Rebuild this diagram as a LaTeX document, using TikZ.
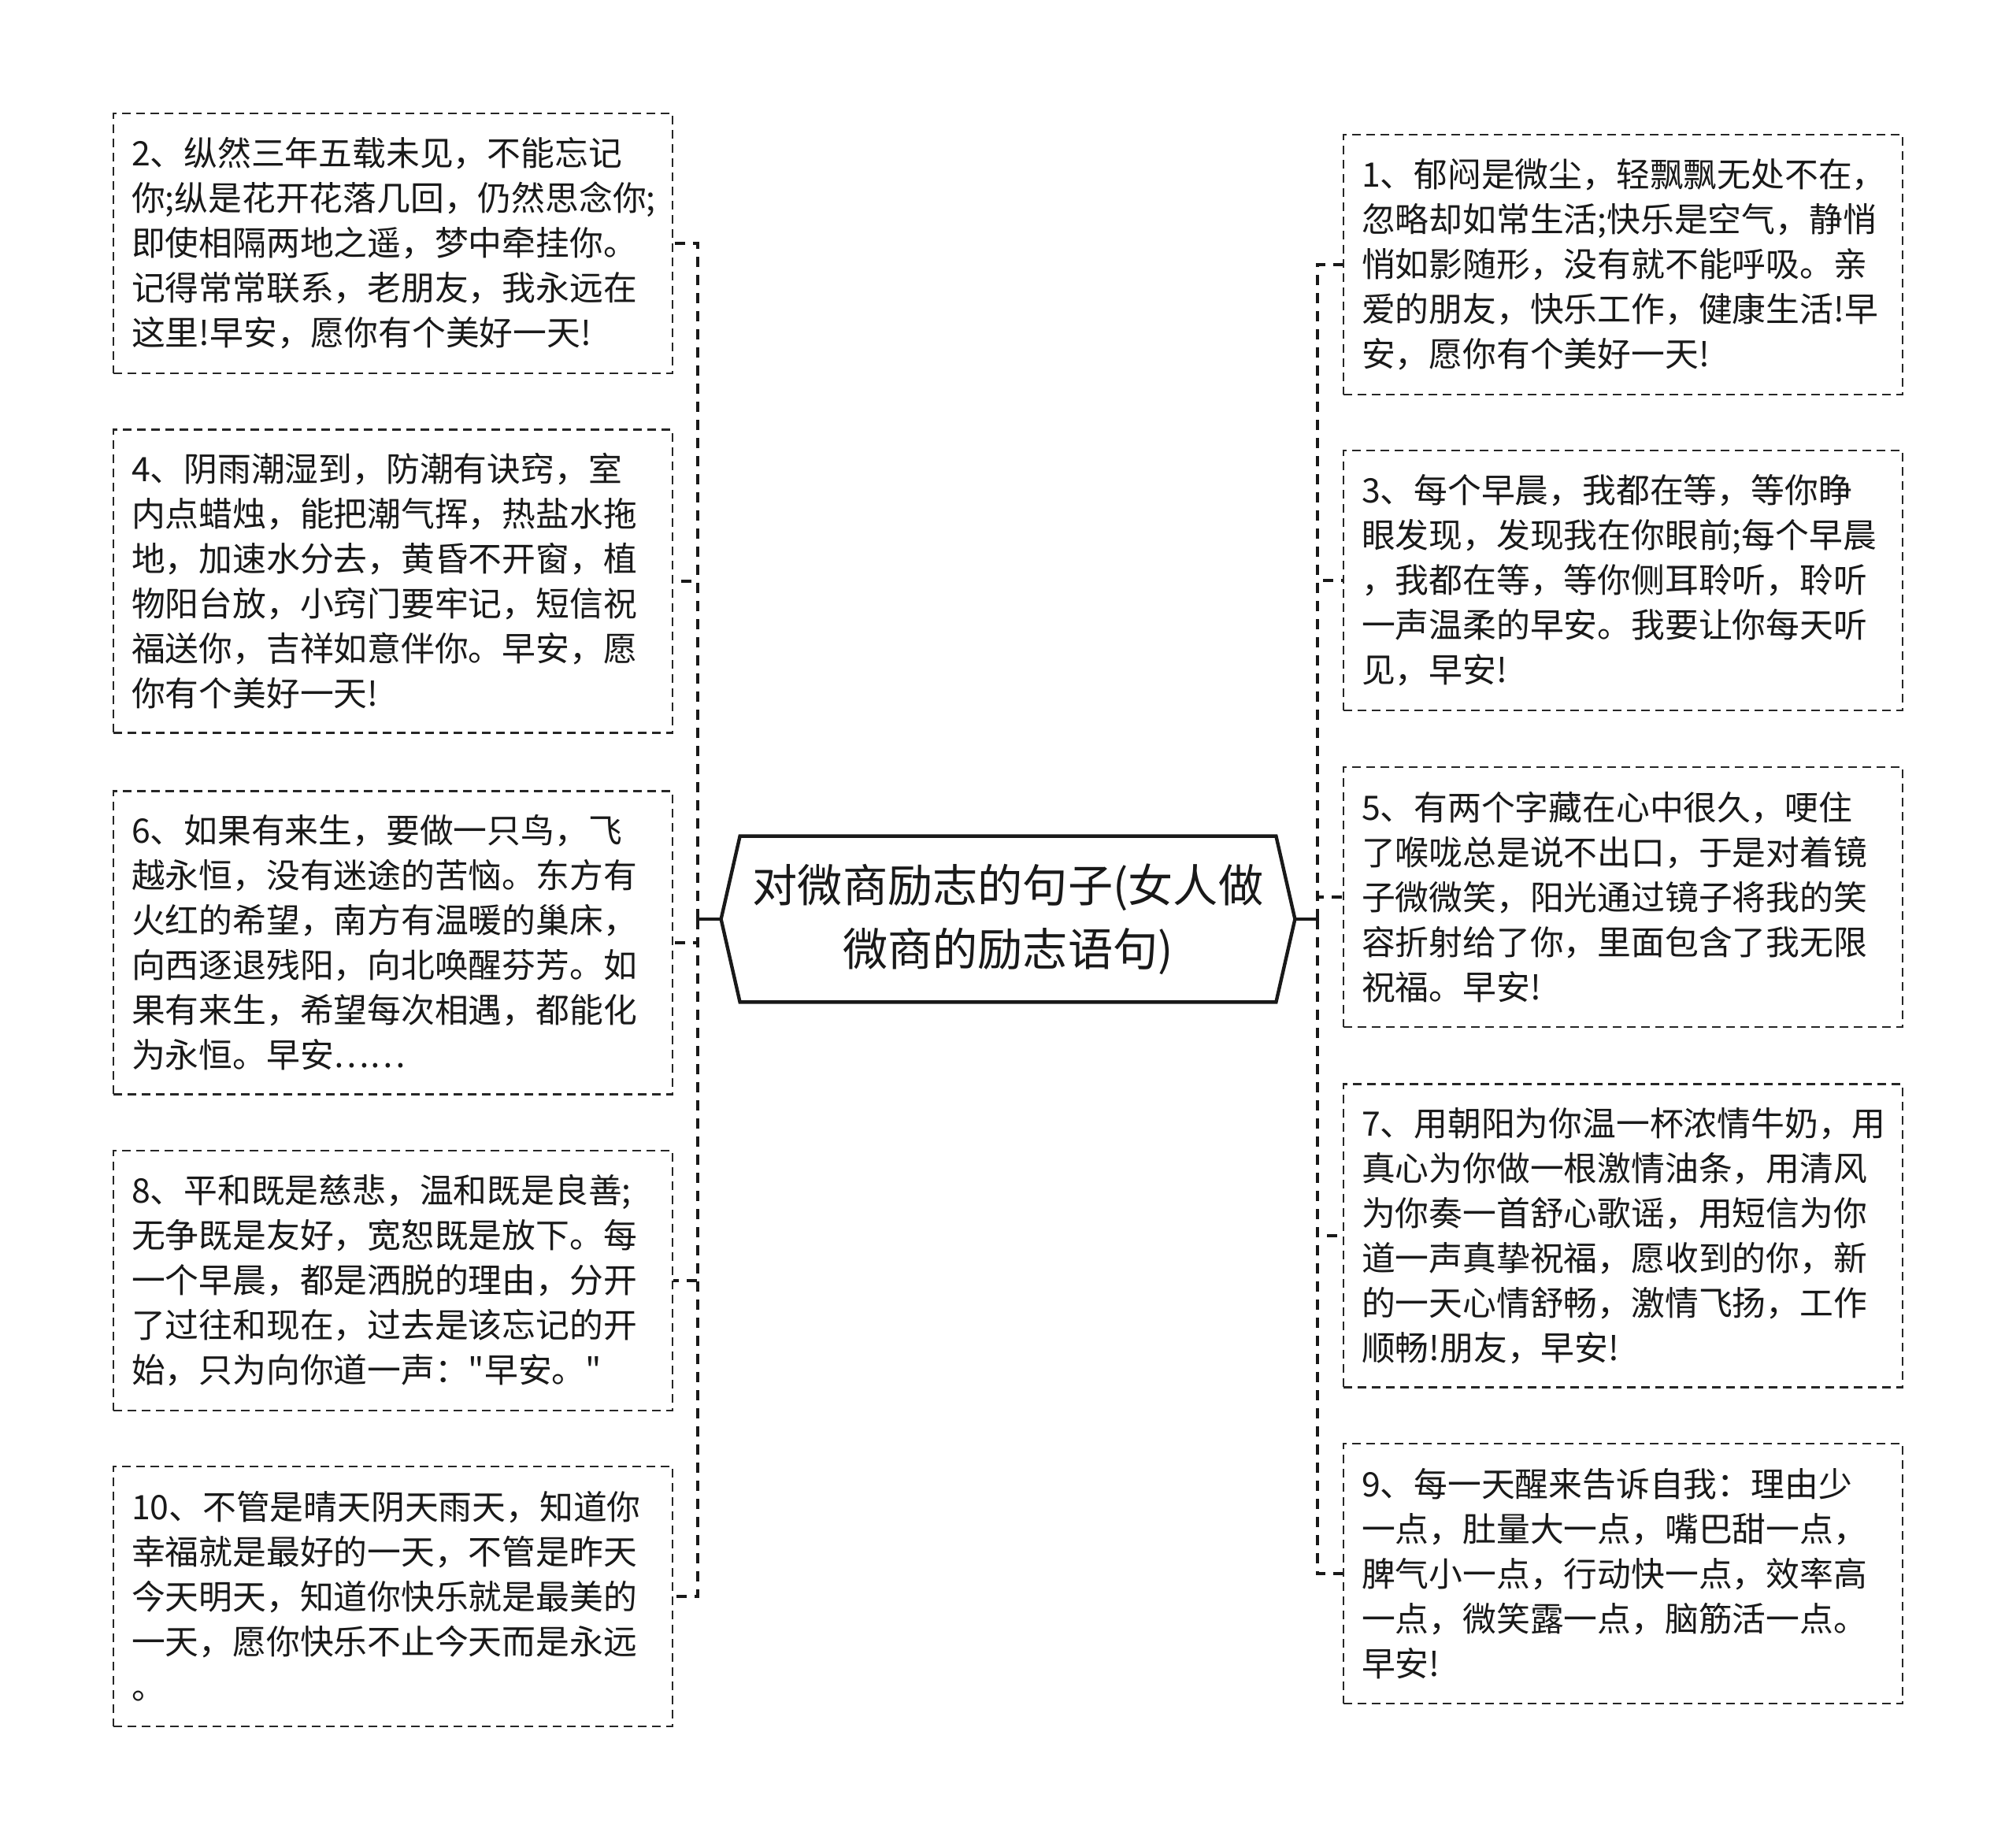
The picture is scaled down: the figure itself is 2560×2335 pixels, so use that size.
\documentclass[tikz,border=0pt]{standalone}
\usepackage{fontspec}
\newfontfamily\cjk{Noto Sans CJK SC}
\hfuzz=30pt
\hbadness=10000
\newcommand{\notefont}{\cjk\fontsize{21.4pt}{28.5pt}\selectfont}
\newcommand{\titlefont}{\cjk\fontsize{28.6pt}{40.5pt}\selectfont}
\tikzset{
  notebox/.style={draw=black!85, line width=1.3pt, dash pattern=on 5.5pt off 3.5pt, text=black!90, font=\notefont, text width=332pt, inner xsep=11.5pt, inner ysep=0pt, align=left, minimum height=165pt},
  tallbox/.style={notebox, minimum height=192.5pt},
  titlebox/.style={font=\titlefont, text=black!90, align=center, inner sep=0pt, minimum width=364pt, minimum height=105pt},
  hexline/.style={draw=black!90, line width=2.2pt, line join=miter},
  stub/.style={draw=black!90, line width=2.4pt},
  branch/.style={draw=black!90, line width=2.4pt, dash pattern=on 6.5pt off 5pt}
}
\begin{document}
\begin{tikzpicture}[x=0.5pt,y=-0.5pt]
\useasboundingbox (0,0) rectangle (2560,2335);
\fill[white] (0,0) rectangle (2560,2335);
\node[titlebox] (title) at (1280,1167) {对微商励志的句子(女人做\\微商的励志语句)};
\draw[hexline] (title.west) -- ([xshift=12pt]title.north west) -- ([xshift=-12pt]title.north east) -- (title.east) -- ([xshift=-12pt]title.south east) -- ([xshift=12pt]title.south west) -- cycle;
\node[notebox] (n2) at (499,309) {2、纵然三年五载未见，不能忘记\\你;纵是花开花落几回，仍然思念你;\\即使相隔两地之遥，梦中牵挂你。\\记得常常联系，老朋友，我永远在\\这里!早安，愿你有个美好一天!};
\node[tallbox] (n4) at (499,738) {4、阴雨潮湿到，防潮有诀窍，室\\内点蜡烛，能把潮气挥，热盐水拖\\地，加速水分去，黄昏不开窗，植\\物阳台放，小窍门要牢记，短信祝\\福送你，吉祥如意伴你。早安，愿\\你有个美好一天!};
\node[tallbox] (n6) at (499,1197) {6、如果有来生，要做一只鸟，飞\\越永恒，没有迷途的苦恼。东方有\\火红的希望，南方有温暖的巢床，\\向西逐退残阳，向北唤醒芬芳。如\\果有来生，希望每次相遇，都能化\\为永恒。早安……};
\node[notebox] (n8) at (499,1626) {8、平和既是慈悲，温和既是良善;\\无争既是友好，宽恕既是放下。每\\一个早晨，都是洒脱的理由，分开\\了过往和现在，过去是该忘记的开\\始，只为向你道一声："早安。"};
\node[notebox] (n10) at (499,2027) {10、不管是晴天阴天雨天，知道你\\幸福就是最好的一天，不管是昨天\\今天明天，知道你快乐就是最美的\\一天，愿你快乐不止今天而是永远\\。};
\node[notebox] (n1) at (2061,336) {1、郁闷是微尘，轻飘飘无处不在，\\忽略却如常生活;快乐是空气，静悄\\悄如影随形，没有就不能呼吸。亲\\爱的朋友，快乐工作，健康生活!早\\安，愿你有个美好一天!};
\node[notebox] (n3) at (2061,737) {3、每个早晨，我都在等，等你睁\\眼发现，发现我在你眼前;每个早晨\\，我都在等，等你侧耳聆听，聆听\\一声温柔的早安。我要让你每天听\\见，早安!};
\node[notebox] (n5) at (2061,1139) {5、有两个字藏在心中很久，哽住\\了喉咙总是说不出口，于是对着镜\\子微微笑，阳光通过镜子将我的笑\\容折射给了你，里面包含了我无限\\祝福。早安!};
\node[tallbox] (n7) at (2061,1569) {7、用朝阳为你温一杯浓情牛奶，用\\真心为你做一根激情油条，用清风\\为你奏一首舒心歌谣，用短信为你\\道一声真挚祝福，愿收到的你，新\\的一天心情舒畅，激情飞扬，工作\\顺畅!朋友，早安!};
\node[notebox] (n9) at (2061,1998) {9、每一天醒来告诉自我：理由少\\一点，肚量大一点，嘴巴甜一点，\\脾气小一点，行动快一点，效率高\\一点，微笑露一点，脑筋活一点。\\早安!};
\coordinate (lhub) at (886,1167);
\coordinate (rhub) at (1673,1167);
\draw[stub] (title.west) -- (lhub);
\draw[stub] (title.east) -- (rhub);
\draw[branch] (lhub) |- (n2.east);
\draw[branch] (lhub) |- (n4.east);
\draw[branch] (lhub) |- (n6.east);
\draw[branch] (lhub) |- (n8.east);
\draw[branch] (lhub) |- (n10.east);
\draw[branch] (rhub) |- (n1.west);
\draw[branch] (rhub) |- (n3.west);
\draw[branch] (rhub) |- (n5.west);
\draw[branch] (rhub) |- (n7.west);
\draw[branch] (rhub) |- (n9.west);
\end{tikzpicture}
\end{document}
